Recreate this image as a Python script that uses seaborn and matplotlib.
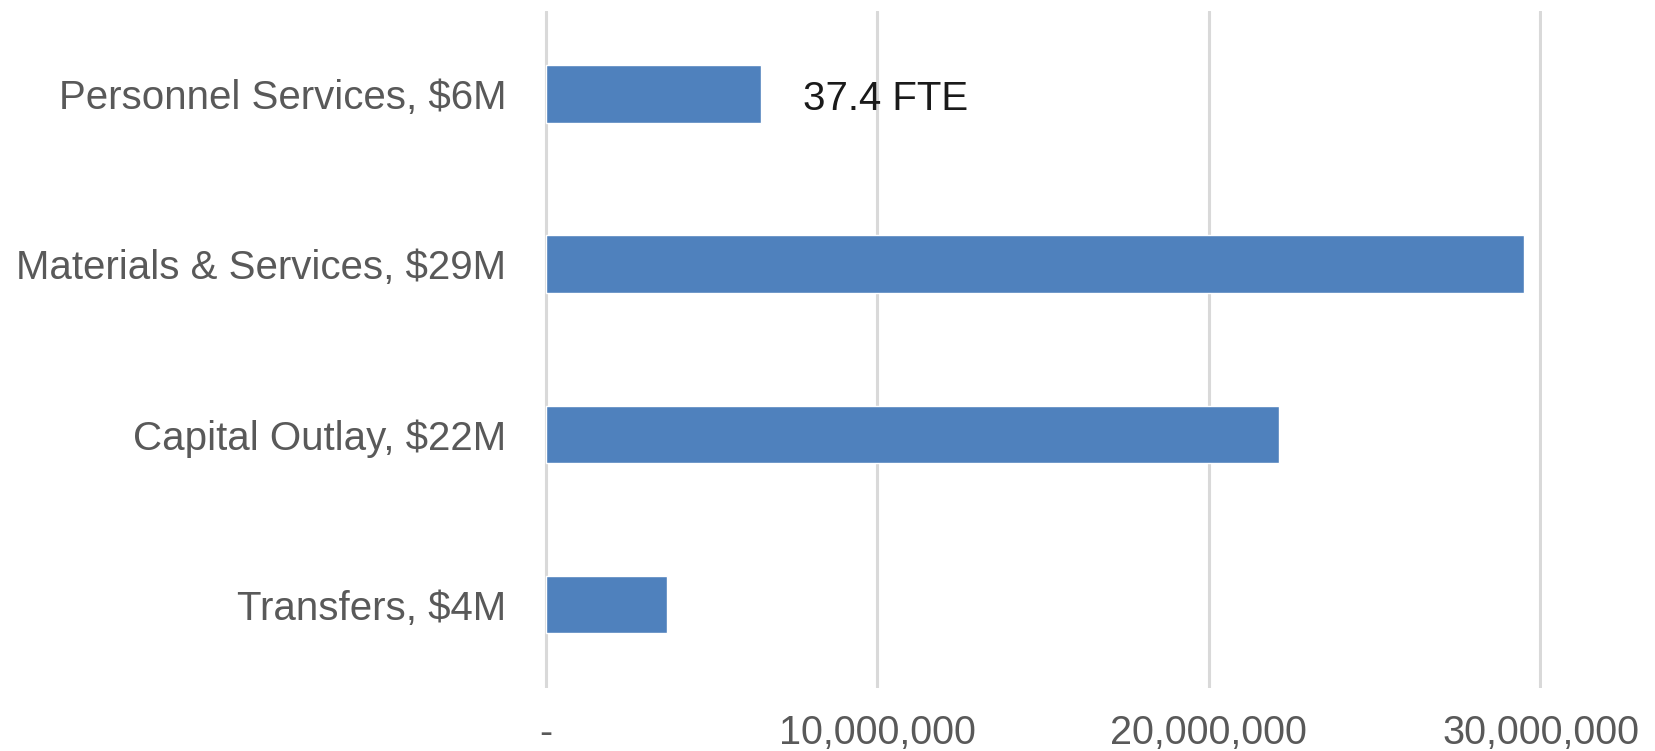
import matplotlib
import numpy as np
import pandas as pd
import seaborn as sns
matplotlib.use("Agg")
import matplotlib.pyplot as plt
from matplotlib.ticker import FuncFormatter

categories = [
    "Personnel Services, $6M",
    "Materials & Services, $29M",
    "Capital Outlay, $22M",
    "Transfers, $4M",
]
amounts = [6_500_000, 29_500_000, 22_100_000, 3_650_000]
x_ticks = [0, 10_000_000, 20_000_000, 30_000_000]
fte_note = "37.4 FTE"
fte_x = 7_750_000

sns.set_theme(style="white")
plt.rcParams["font.family"] = ["Liberation Sans", "DejaVu Sans"]

df = pd.DataFrame({"category": categories, "amount": amounts})

fig = plt.figure(figsize=(16.55, 7.51), dpi=100)
ax = fig.add_axes([0.3285, 0.084, 0.6035, 0.9015])

sns.barplot(data=df, x="amount", y="category", orient="h", color="#4F81BD",
            saturation=1, width=0.34, ax=ax)

ax.set_xlim(-60_000, 30_060_000)
ax.set_ylim(3.49, -0.49)
ax.set_xticks(x_ticks)
ax.xaxis.set_major_formatter(FuncFormatter(lambda v, p: "-" if v == 0 else f"{v:,.0f}"))
ax.grid(axis="x", color="#D9D9D9", linewidth=2.2)
ax.set_axisbelow(True)
for s in ax.spines.values():
    s.set_visible(False)
ax.tick_params(axis="x", length=0, pad=19, labelsize=28.5, labelcolor="#595959")
ax.tick_params(axis="y", length=0, pad=27, labelsize=29, labelcolor="#595959")
for lbl in ax.get_xticklabels():
    if lbl.get_text() == "-":
        lbl.set_x(-150_000)
ax.set_xlabel("")
ax.set_ylabel("")

# FTE note sits a touch below the bar centre in the original
ax.text(fte_x, 0.03, fte_note, fontsize=29, color="#1a1a1a", va="center", ha="left")

fig.savefig("out.png", dpi=100)
